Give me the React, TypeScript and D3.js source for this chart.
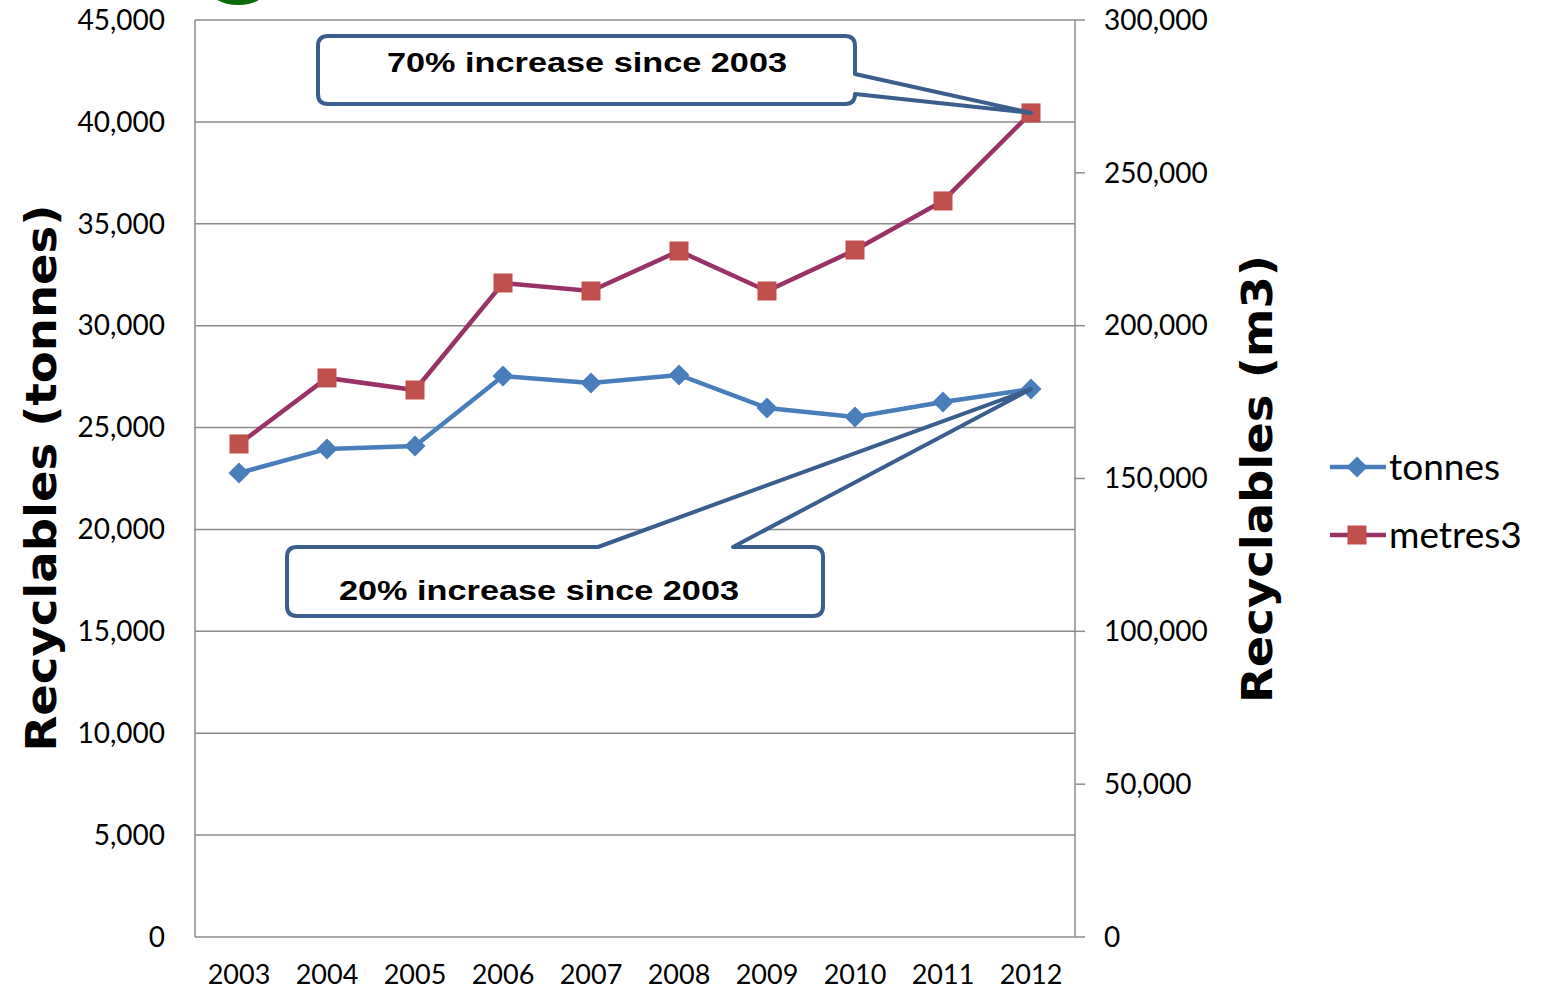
import React from "react";
import * as d3 from "d3";

const years = ["2003", "2004", "2005", "2006", "2007", "2008", "2009", "2010", "2011", "2012"];
const tonnes = [22770, 23950, 24090, 27530, 27190, 27580, 25960, 25520, 26250, 26890];
const metres3 = [161300, 182900, 178950, 213960, 211340, 224430, 211340, 224750, 240800, 269600];
const leftTicks = [0, 5000, 10000, 15000, 20000, 25000, 30000, 35000, 40000, 45000];
const rightTicks = [0, 50000, 100000, 150000, 200000, 250000, 300000];
const seriesNames = ["tonnes", "metres3"];
const callout1Text = "70% increase since 2003";
const callout2Text = "20% increase since 2003";

const W = 1543, H = 991;
const L = 195, R = 1075, T = 20, B = 937;

const BLUE = "#4A7EBB";
const PLUM = "#993366";
const RED = "#C0504D";
const CALL = "#3B5E8C";
const GRID = "#8C8C8C";

function calloutRight(x0: number, y0: number, x1: number, y1: number, r: number, ya: number, yb: number, tx: number, ty: number) {
  return `M${x0 + r},${y0} L${x1 - r},${y0} Q${x1},${y0} ${x1},${y0 + r} L${x1},${ya} L${tx},${ty} L${x1},${yb} L${x1},${y1 - r} Q${x1},${y1} ${x1 - r},${y1} L${x0 + r},${y1} Q${x0},${y1} ${x0},${y1 - r} L${x0},${y0 + r} Q${x0},${y0} ${x0 + r},${y0} Z`;
}
function calloutTop(x0: number, y0: number, x1: number, y1: number, r: number, xa: number, xb: number, tx: number, ty: number) {
  return `M${x0 + r},${y0} L${xa},${y0} L${tx},${ty} L${xb},${y0} L${x1 - r},${y0} Q${x1},${y0} ${x1},${y0 + r} L${x1},${y1 - r} Q${x1},${y1} ${x1 - r},${y1} L${x0 + r},${y1} Q${x0},${y1} ${x0},${y1 - r} L${x0},${y0 + r} Q${x0},${y0} ${x0 + r},${y0} Z`;
}

export default function App() {
  const x = d3.scaleBand<string>().domain(years).range([L, R]);
  const cx = (y: string) => (x(y) as number) + x.bandwidth() / 2;
  const yL = d3.scaleLinear().domain([0, 45000]).range([B, T]);
  const yR = d3.scaleLinear().domain([0, 300000]).range([B, T]);
  const fmt = d3.format(",");
  const tickFont = "Lato, 'Open Sans', sans-serif";

  const lineT = d3.line<number>().x((_, i) => cx(years[i])).y((v) => yL(v));
  const lineM = d3.line<number>().x((_, i) => cx(years[i])).y((v) => yR(v));

  const tip1x = cx(years[years.length - 1]);
  const tip1y = yR(metres3[metres3.length - 1]);
  const tip2y = yL(tonnes[tonnes.length - 1]);

  const diamond = (px: number, py: number, s: number) =>
    `M${px},${py - s} L${px + s},${py} L${px},${py + s} L${px - s},${py} Z`;

  return (
    <svg width={W} height={H} style={{ position: "absolute", left: 0, top: 0, background: "#fff" }}>
      <rect x={0} y={0} width={W} height={H} fill="#fff" />
      <ellipse cx={238} cy={-13} rx={30} ry={18} fill="#0B6B0B" />
      {leftTicks.map((t) => (
        <line key={t} x1={L} x2={R} y1={yL(t)} y2={yL(t)} stroke={GRID} strokeWidth={1.5} />
      ))}
      <line x1={L} x2={L} y1={T} y2={B} stroke={GRID} strokeWidth={1.5} />
      <line x1={R} x2={R} y1={T} y2={B} stroke={GRID} strokeWidth={1.5} />
      {rightTicks.map((t) => (
        <line key={"rt" + t} x1={R} x2={R + 10} y1={yR(t)} y2={yR(t)} stroke={GRID} strokeWidth={1.5} />
      ))}
      {leftTicks.map((t) => (
        <text key={"l" + t} x={165} y={yL(t)} dy="0.35em" textAnchor="end" fontFamily={tickFont} fontSize={28} fill="#000">
          {fmt(t)}
        </text>
      ))}
      {rightTicks.map((t) => (
        <text key={"r" + t} x={1104} y={yR(t)} dy="0.35em" textAnchor="start" fontFamily={tickFont} fontSize={28} fill="#000">
          {fmt(t)}
        </text>
      ))}
      {years.map((yv) => (
        <text key={"x" + yv} x={cx(yv)} y={975} dy="0.35em" textAnchor="middle" fontFamily={tickFont} fontSize={27} fill="#000">
          {yv}
        </text>
      ))}
      <text transform={`translate(56,478) rotate(-90)`} textAnchor="middle" fontFamily="'DejaVu Sans', sans-serif" fontWeight="bold" fontSize={42} textLength={547} lengthAdjust="spacingAndGlyphs" fill="#000">
        Recyclables (tonnes)
      </text>
      <text transform={`translate(1272,479) rotate(-90)`} textAnchor="middle" fontFamily="'DejaVu Sans', sans-serif" fontWeight="bold" fontSize={42} textLength={448} lengthAdjust="spacingAndGlyphs" fill="#000">
        Recyclables (m3)
      </text>
      <path d={lineM(metres3) || ""} fill="none" stroke={PLUM} strokeWidth={4.5} />
      {metres3.map((v, i) => (
        <rect key={"m" + i} x={cx(years[i]) - 9.5} y={yR(v) - 9.5} width={19} height={19} fill={RED} />
      ))}
      <path d={lineT(tonnes) || ""} fill="none" stroke={BLUE} strokeWidth={4.5} />
      {tonnes.map((v, i) => (
        <path key={"t" + i} d={diamond(cx(years[i]), yL(v), 10.5)} fill={BLUE} />
      ))}
      <path d={calloutRight(318, 36, 855, 104, 10, 74, 94, tip1x, tip1y)} fill="#fff" stroke={CALL} strokeWidth={4} strokeLinejoin="round" />
      <text x={587} y={72} textAnchor="middle" fontFamily="'Liberation Sans', Arial, sans-serif" fontWeight="bold" fontSize={28} textLength={400} lengthAdjust="spacingAndGlyphs" fill="#000">
        {callout1Text}
      </text>
      <path d={calloutTop(287, 547, 823, 616, 10, 598, 733, tip1x, tip2y)} fill="#fff" stroke={CALL} strokeWidth={4} strokeLinejoin="round" />
      <text x={539} y={600} textAnchor="middle" fontFamily="'Liberation Sans', Arial, sans-serif" fontWeight="bold" fontSize={28} textLength={400} lengthAdjust="spacingAndGlyphs" fill="#000">
        {callout2Text}
      </text>
      <line x1={1330} x2={1386} y1={467} y2={467} stroke={BLUE} strokeWidth={4.5} />
      <path d={diamond(1357, 467, 10.5)} fill={BLUE} />
      <text x={1389} y={467} dy="0.35em" fontFamily={tickFont} fontSize={37} fill="#000">{seriesNames[0]}</text>
      <line x1={1330} x2={1386} y1={535} y2={535} stroke={PLUM} strokeWidth={4.5} />
      <rect x={1347.5} y={525.5} width={19} height={19} fill={RED} />
      <text x={1389} y={535} dy="0.35em" fontFamily={tickFont} fontSize={37} fill="#000">{seriesNames[1]}</text>
    </svg>
  );
}
